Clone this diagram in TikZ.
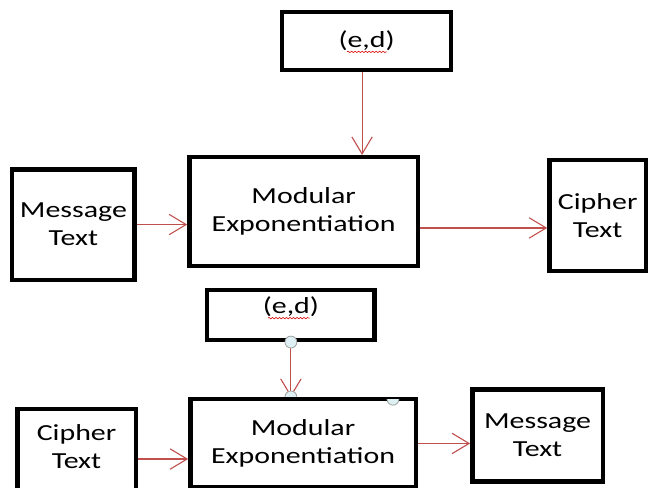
\documentclass[tikz,border=0pt]{standalone}
\usepackage{fontspec}
\newfontfamily\calib[FakeStretch=1.3]{Carlito}
\usetikzlibrary{arrows.meta,decorations.pathmorphing}
\definecolor{arrred}{RGB}{192,80,77}
\definecolor{handlefill}{RGB}{222,240,244}
\begin{document}
\begin{tikzpicture}[>={Straight Barb[length=0.6cm,width=0.72cm]},
  blk/.style={draw, rectangle, line width=4.5bp, inner sep=2pt, align=center,
    font=\calib\fontsize{23bp}{28bp}\selectfont},
  redarr/.style={->, draw=arrred, line width=1.1bp},
  handle/.style={draw=gray!75, fill=handlefill, line width=0.8bp},
  squiggle/.style={draw=red!85!black, line width=0.6bp, decorate,
    decoration={snake, amplitude=0.7bp, segment length=3.5bp}}]
\clip (0,0) rectangle (22.89,17.21);
% encryption
\node[blk, minimum width=5.96cm, minimum height=2.05cm] (ed1) at (12.93,15.77) {(e,d)};
\node[blk, minimum width=8.06cm, minimum height=3.83cm] (mod1) at (10.71,9.75) {Modular\\Exponentiation};
\node[blk, minimum width=4.32cm, minimum height=3.90cm] (msg1) at (2.59,9.29) {Message\\Text};
\node[blk, minimum width=3.40cm, minimum height=3.90cm] (ciph1) at (21.08,9.61) {Cipher\\Text};
\draw[redarr] ([xshift=-0.16cm]ed1.south) -- ([xshift=-0.16cm]ed1.south |- mod1.north);
\draw[redarr] (msg1.east) -- (msg1.east -| mod1.west);
\draw[redarr] ([yshift=-0.58cm]mod1.east) -- ([yshift=-0.58cm]mod1.east -| ciph1.west);
\draw[squiggle] ([xshift=-0.69cm,yshift=-0.39cm]ed1.center) -- ++(1.41,0);
% decryption
\node[blk, minimum width=5.91cm, minimum height=1.75cm, text depth=0.7cm] (ed2) at (10.26,6.10) {(e,d)};
\node[blk, minimum width=7.95cm, minimum height=3.12cm] (mod2) at (10.69,1.57) {Modular\\Exponentiation};
\node[blk, minimum width=4.18cm, minimum height=3.10cm, text depth=0.46cm] (ciph2) at (2.70,1.23) {Cipher\\Text};
\node[blk, minimum width=4.60cm, minimum height=3.26cm] (msg2) at (18.96,1.85) {Message\\Text};
\draw[redarr] (ed2.south) -- (ed2.south |- mod2.north);
\draw[redarr] ([yshift=-0.21cm]ciph2.east) -- ([yshift=-0.21cm]ciph2.east -| mod2.west);
\draw[redarr] (mod2.east) -- (mod2.east -| msg2.west);
\draw[squiggle] ([xshift=-0.81cm,yshift=-0.11cm]ed2.center) -- ++(1.48,0);
% selection handles
\draw[handle] (ed2.south) circle (0.21);
\draw[handle] ([xshift=-0.21cm]ed2.south |- mod2.north) arc[start angle=180, end angle=0, radius=0.21];
\draw[handle] ([xshift=2.96cm,yshift=-0.08cm]mod2.north) arc[start angle=180, end angle=360, radius=0.21];
\end{tikzpicture}
\end{document}
